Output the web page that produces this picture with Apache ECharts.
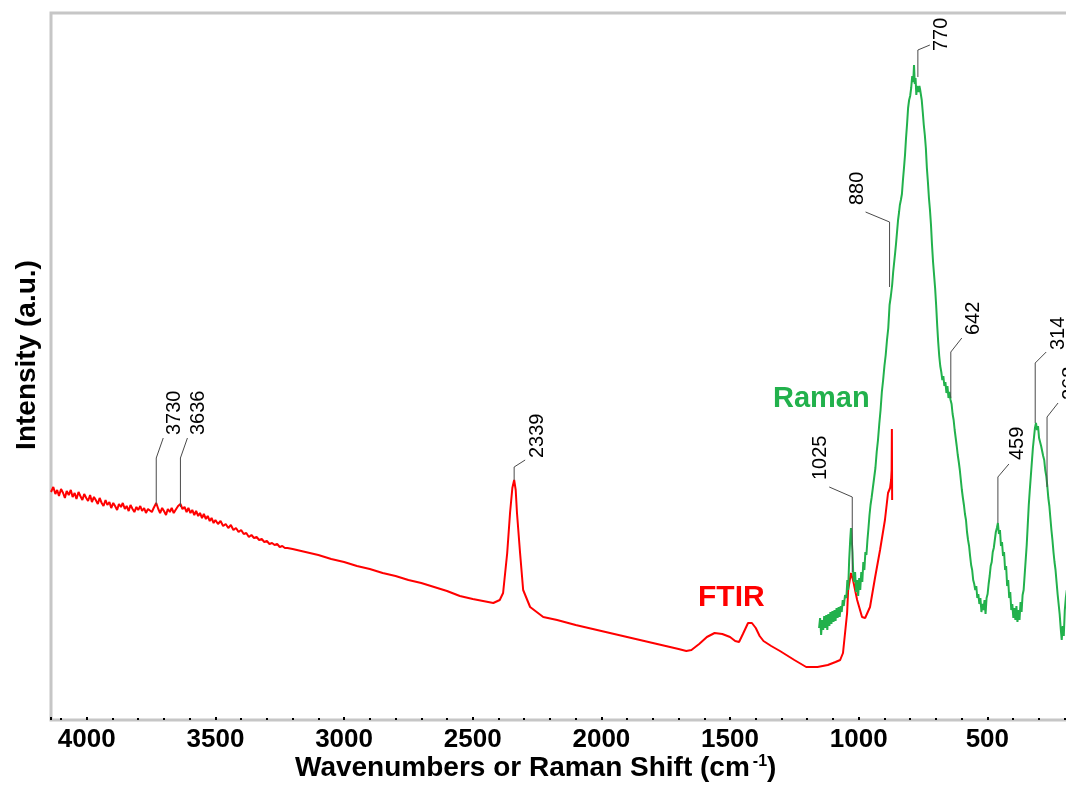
<!DOCTYPE html>
<html>
<head>
<meta charset="utf-8">
<script src="https://cdn.jsdelivr.net/npm/echarts@6/dist/echarts.min.js"></script>
<style>
  html, body { margin: 0; padding: 0; background: #fff; }
  #chart { width: 1066px; height: 785px; }
</style>
</head>
<body>
<div id="chart"></div>
<script>
// ---------- DATA ----------
// FTIR spectrum (wavenumber cm-1, intensity a.u.)
const ftirX = [4139,4130,4122,4115,4108,4100,4092,4085,4078,4070,4062,4055,4047,4040,4032,4025,4017,4010,4002,3995,3987,3980,3972,3965,3957,3950,3942,3935,3927,3920,3912,3905,3897,3890,3882,3875,3867,3860,3852,3845,3837,3830,3822,3815,3807,3800,3792,3785,3777,3770,3762,3755,3747,3740,3730,3722,3715,3707,3700,3692,3685,3677,3670,3662,3655,3645,3636,3628,3620,3612,3605,3597,3590,3582,3575,3567,3560,3552,3545,3537,3530,3522,3515,3507,3500,3490,3480,3470,3460,3450,3440,3430,3420,3410,3400,3390,3380,3370,3360,3350,3340,3330,3320,3310,3300,3290,3280,3270,3260,3250,3240,3230,3220,3200,
  3150,3100,3050,3000,2950,2900,2850,2800,2750,2700,2650,2600,2550,2500,2460,2420,2395,2382,2366,2355,2346,2339,2333,2328,2316,2304,2277,2226,2172,2100,2050,2000,1950,1900,1850,1800,1750,1700,1670,1650,1620,1590,1560,1530,1500,1480,1465,1450,1430,1415,1400,1385,1370,1340,1306,1250,1204,1160,1120,1090,1072,1061,1045,1041,1030,1022,1006,987,975,956,936,917,898,886,878,874,872,871,870];
const ftirY = [228,233,226,230,224,231,227,222,229,225,230,223,227,221,228,224,220,226,222,219,225,218,223,220,216,222,217,214,220,215,218,212,217,214,210,216,213,217,211,214,209,215,211,208,213,210,214,209,212,207,211,213,208,212,217,211,207,212,209,205,211,208,212,207,210,214,216,211,213,208,212,207,210,205,209,204,207,202,206,201,204,199,202,197,200,196,199,194,196,192,195,190,192,188,190,186,187,183,185,182,183,180,181,178,179,176,177,175,176,173,174,172,172,171,
  168,165,161,158,154,151,147,144,140,137,133,129,124,121,119,117,120,127,167,207,232,240,230,207,167,130,113,103,100,95,92,89,86,83,80,77,74,71,69,70,76,83,87,86,83,79,78,86,97,97,92,84,79,74,69,60,53,53,55,58,60,67,107,130,147,140,120,103,102,113,143,170,200,227,232,240,250,291,220];

// Raman spectrum (Raman shift cm-1, intensity a.u.)
const ramanX = [1154,1150,1146,1142,1138,1134,1130,1126,1122,1118,1114,1110,1106,1102,1098,1094,1090,1086,1082,1078,1074,1070,1066,1062,1058,1053,1048,1044,1041,1037,1033,1030,1027,1024,1021,1018,1014,1010,1006,1002,998,994,990,986,982,978,974,970,966,962,958,954,950,945,940,935,930,925,920,915,910,905,900,895,890,885,880,875,870,866,862,858,855,851,847,843,840,836,832,828,824,820,816,812,808,804,800,796,792,788,785,782,779,776,773,770,767,764,761,758,755,751,747,743,739,735,731,727,723,719,715,711,707,703,699,695,691,687,683,679,675,671,667,663,659,655,651,647,643,639,635,631,627,623,619,615,611,607,603,599,595,591,587,583,579,575,571,567,563,559,555,551,547,543,539,535,531,527,523,519,515,511,507,503,499,495,491,487,483,479,475,471,467,463,459,455,451,447,443,439,435,431,427,423,419,415,411,407,403,399,395,391,387,383,379,375,371,367,363,359,355,351,347,343,339,335,331,327,323,319,315,311,307,303,299,295,291,287,283,279,275,271,267,263,259,255,251,247,243,239,235,231,227,223,219,215,211,207,203,199,195,191];
const ramanY = [92,102,85,100,90,104,92,105,90,106,94,108,96,109,98,110,99,112,102,113,103,114,108,120,114,125,122,140,130,160,180,192,180,168,145,138,148,128,140,124,142,130,148,138,158,150,168,165,180,192,205,215,222,232,242,252,268,280,296,310,328,340,354,365,380,392,415,424,435,448,458,468,476,488,500,508,515,520,526,540,552,565,582,596,612,620,624,632,644,638,655,636,642,625,634,636,628,634,630,625,620,608,595,585,572,552,538,522,510,495,475,458,445,432,415,395,378,364,354,348,340,344,334,338,327,334,322,328,320,316,306,300,290,282,274,265,258,250,240,230,222,215,206,200,188,180,174,164,155,150,140,136,130,134,122,126,116,122,108,116,110,120,106,122,126,136,144,154,158,168,172,180,188,192,197,186,190,174,178,164,168,150,154,134,140,122,128,110,116,102,112,100,114,98,110,100,118,108,125,130,145,160,175,195,215,230,244,258,272,282,292,297,290,294,282,284,274,276,264,260,250,244,234,222,214,202,190,180,168,158,150,138,126,116,106,92,80,94,84,110,122,130];

// Peak annotations
const annoLabels = ['3730','3636','2339','1025','880','770','642','459','314','268'];
const annoX      = [3730, 3636, 2339, 1025, 880, 770, 642, 459, 314, 268];
const annoBase   = [215, 213, 240, 148, 433, 643, 322, 197, 297, 233];   // where the leader starts
const annoTop    = [262, 262, 253, 223, 498, 670, 368, 243, 357, 303];   // top of vertical leader

// x-axis tick labels
const xTickValues = [4000,3500,3000,2500,2000,1500,1000,500];

// ---------- STYLE (pixel offsets of leader elbows and labels) ----------
const elbowOffset = [[7,-20],[7,-20],[11,-7],[-23,-10],[-24,-10],[12,-5],[11,-14],[11,-13],[11,-11],[11,-14]];
const labelShift  = [[11,-3],[11,-3],[12,-2],[-9,-7],[-8,-7],[12,6],[12,-3],[9,-4],[12,-2],[12,-3]];

const GREEN = '#22b14c';
const RED = '#ff0000';
const FONT = 'Arial, "Liberation Sans", sans-serif';

const chart = echarts.init(document.getElementById('chart'), null, {renderer: 'canvas'});

const option = {
  animation: false,
  backgroundColor: '#ffffff',
  grid: {
    show: true, left: 51, top: 13, width: 1065, height: 707,
    containLabel: false, outerBoundsMode: 'none',
    borderColor: '#c6c6c6', borderWidth: 3, backgroundColor: 'transparent'
  },
  xAxis: {
    type: 'value', inverse: true, min: 0, max: 4139, interval: 500,
    axisLine: {show: false},
    axisTick: {show: true, inside: true, length: 3, lineStyle: {color: '#000', width: 2}},
    minorTick: {show: true, splitNumber: 5, length: 2, lineStyle: {color: '#000', width: 2}},
    splitLine: {show: false},
    axisLabel: {
      show: true, margin: 7, color: '#000', fontSize: 26, fontWeight: 'bold', fontFamily: FONT,
      formatter: function (v) { return xTickValues.indexOf(v) >= 0 ? String(v) : ''; }
    }
  },
  yAxis: {
    type: 'value', min: 0, max: 707, show: false
  },
  graphic: [
    {
      type: 'text', left: 295, top: 754,
      style: {
        text: 'Wavenumbers or Raman Shift (cm{sup|-1})',
        font: 'bold 28px ' + FONT, fill: '#000',
        rich: {
          sup: {fontSize: 16, fontWeight: 'bold', fontFamily: FONT, fill: '#000', verticalAlign: 'top', padding: [0, 0, 12, 3]}
        }
      }
    },
    {
      type: 'text', x: 27, y: 355, rotation: Math.PI / 2,
      style: {text: 'Intensity (a.u.)', font: 'bold 28px ' + FONT, fill: '#000', align: 'center', verticalAlign: 'middle'}
    },
    {
      type: 'text', x: 773, y: 399,
      style: {text: 'Raman', font: 'bold 29px ' + FONT, fill: GREEN, align: 'left', verticalAlign: 'middle'}
    },
    {
      type: 'text', x: 698, y: 598,
      style: {text: 'FTIR', font: 'bold 30px ' + FONT, fill: RED, align: 'left', verticalAlign: 'middle'}
    }
  ],
  series: [
    {
      name: 'FTIR', type: 'line', showSymbol: false, z: 3,
      data: ftirX.map((x, i) => [x, ftirY[i]]),
      lineStyle: {color: RED, width: 2}, itemStyle: {color: RED}
    },
    {
      name: 'Raman', type: 'line', showSymbol: false, z: 4,
      data: ramanX.map((x, i) => [x, ramanY[i]]),
      lineStyle: {color: GREEN, width: 2}, itemStyle: {color: GREEN}
    },
    {
      name: 'peaks', type: 'custom', z: 5, clip: false,
      data: annoX.map((x, i) => [x, annoBase[i], annoTop[i]]),
      renderItem: function (params, api) {
        const i = params.dataIndex;
        const p0 = api.coord([api.value(0), api.value(1)]);
        const p1 = api.coord([api.value(0), api.value(2)]);
        const p2 = [p1[0] + elbowOffset[i][0], p1[1] + elbowOffset[i][1]];
        const t = [p2[0] + labelShift[i][0], p2[1] + labelShift[i][1]];
        return {
          type: 'group',
          children: [
            {type: 'polyline', shape: {points: [p0, p1, p2]}, style: {stroke: '#4a4a4a', lineWidth: 1, fill: null}},
            {type: 'text', x: t[0], y: t[1], rotation: Math.PI / 2,
             style: {text: annoLabels[i], font: '20px ' + FONT, fill: '#000', align: 'left', verticalAlign: 'middle'}}
          ]
        };
      }
    }
  ]
};
chart.setOption(option);
</script>
</body>
</html>
